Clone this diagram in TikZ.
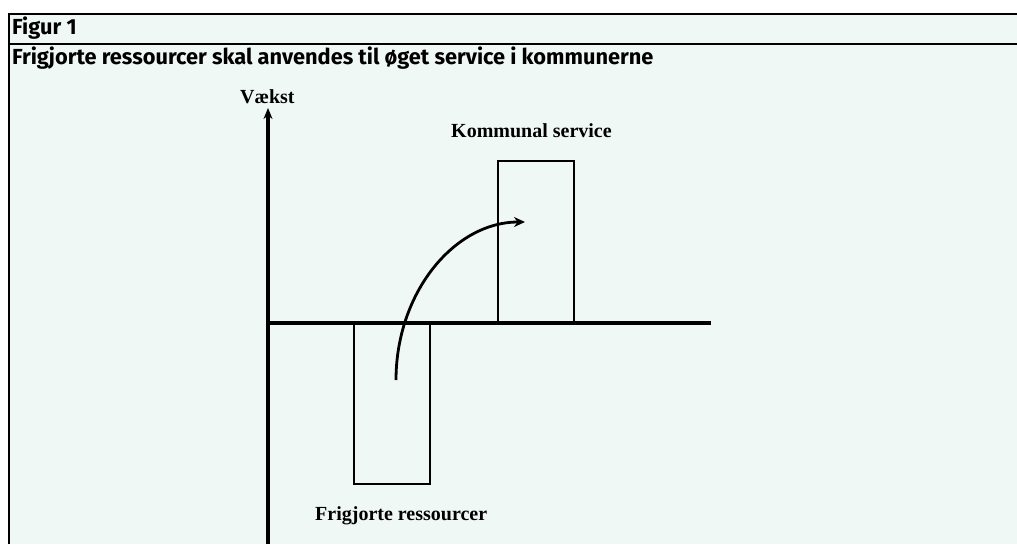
\documentclass[tikz,border=0pt]{standalone}
\usepackage{fontspec}
\setmainfont{Liberation Serif}
\newfontfamily\titlefont{Fira Sans}
\usetikzlibrary{arrows.meta}
\definecolor{bgmint}{RGB}{240,248,245}
\tikzset{
  axisline/.style={line width=3.2pt},
  barbox/.style={draw, line width=2.2pt},
  frameline/.style={line width=1.6pt},
  lab/.style={font=\bfseries\fontsize{20}{22}\selectfont, inner sep=0pt, anchor=base west},
  ttl/.style={font=\titlefont\bfseries\fontsize{21.8}{24}\selectfont, inner sep=0pt, anchor=base west},
}
\begin{document}
\begin{tikzpicture}[x=1pt,y=-1pt]
\useasboundingbox (0,0) rectangle (1017,544);
\fill[white] (0,0) rectangle (1017,544);
\fill[bgmint] (9,14) rectangle (1017,544);
\coordinate (ftl) at (9,14);
\coordinate (ftr) at (1017,14);
\coordinate (fbl) at (9,544);
\coordinate (fml) at (9,44);
\coordinate (fmr) at (1017,44);
\draw[frameline] (fbl) -- (ftl) -- (ftr);
\draw[frameline] (fml) -- (fmr);
\node[ttl] (fig) at (12,34) {Figur 1};
\node[ttl] (title) at (12,64) {Frigjorte ressourcer skal anvendes til øget service i kommunerne};
% axes
\coordinate (ybot) at (268,544);
\coordinate (ytop) at (268,108);
\coordinate (xl) at (268,323);
\coordinate (xr) at (711,323);
\draw[axisline,-{Stealth[length=11pt,width=9pt]}] (ybot) -- (ytop);
\draw[axisline] (xl) -- (xr);
% bars
\node[barbox, minimum width=76pt, minimum height=162pt, inner sep=0pt] (up) at (536,242) {};
\node[barbox, minimum width=76pt, minimum height=161pt, inner sep=0pt] (down) at (392,403.5) {};
% labels
\node[lab] (vaekst) at (240,103) {Vækst};
\node[lab] (komm) at (451,137) {Kommunal service};
\node[lab] (frig) at (315,520) {Frigjorte ressourcer};
% curved arrow
\coordinate (cs) at (396,380);
\coordinate (ce) at (525,222);
\draw[line width=2.8pt,-{Stealth[length=11pt,width=10pt]}] (cs) .. controls (396,293) and (454,222) .. (ce);
\end{tikzpicture}
\end{document}
